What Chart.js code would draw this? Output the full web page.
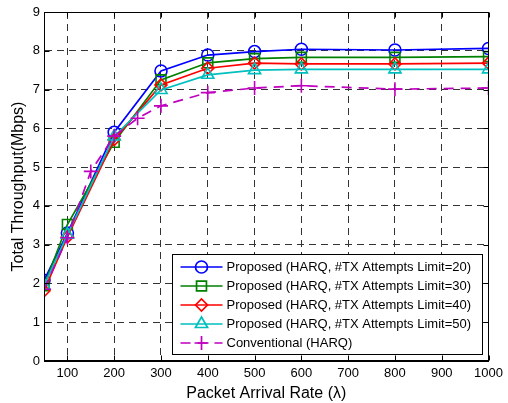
<!DOCTYPE html>
<html>
<head>
<meta charset="utf-8">
<title>Throughput</title>
<script src="https://cdn.jsdelivr.net/npm/chart.js@4"></script>
<style>
  html, body { margin: 0; padding: 0; background: #fff; }
  #wrap { width: 508px; height: 403px; }
</style>
</head>
<body>
<div id="wrap"><canvas id="c" width="508" height="403"></canvas></div>
<script>
// packet arrival rates (x) for the proposed schemes and the conventional one
var rates = [50, 100, 200, 300, 400, 500, 600, 800, 1000];
var convRates = [50, 100, 150, 200, 250, 300, 400, 500, 600, 800, 1000];

// total throughput (Mbps)
var limit20 = [2.08, 3.30, 5.90, 7.48, 7.89, 7.98, 8.04, 8.02, 8.06];
var limit30 = [1.94, 3.52, 5.64, 7.25, 7.69, 7.80, 7.83, 7.83, 7.85];
var limit40 = [1.81, 3.20, 5.71, 7.12, 7.55, 7.68, 7.66, 7.66, 7.68];
var limit50 = [1.94, 3.26, 5.79, 6.99, 7.38, 7.50, 7.52, 7.52, 7.52];
var conventional = [1.85, 3.18, 4.89, 5.80, 6.26, 6.58, 6.92, 7.04, 7.10, 7.01, 7.04];

var xTicks = [100, 200, 300, 400, 500, 600, 700, 800, 900, 1000];
var yTicks = [0, 1, 2, 3, 4, 5, 6, 7, 8, 9];

var seriesNames = [
  'Proposed (HARQ, #TX Attempts Limit=20)',
  'Proposed (HARQ, #TX Attempts Limit=30)',
  'Proposed (HARQ, #TX Attempts Limit=40)',
  'Proposed (HARQ, #TX Attempts Limit=50)',
  'Conventional (HARQ)'
];

var FONT = "'Liberation Sans', Arial, Helvetica, sans-serif";

function pts(xs, ys) {
  return xs.map(function(x, i) { return {x: x, y: ys[i]}; });
}

function makeSet(idx, xs, ys, color, style, radius, dash) {
  return {
    label: seriesNames[idx],
    data: pts(xs, ys),
    borderColor: color,
    backgroundColor: 'rgba(0,0,0,0)',
    pointBorderColor: color,
    pointBackgroundColor: 'rgba(0,0,0,0)',
    borderWidth: 1.7,
    pointBorderWidth: 1.6,
    pointStyle: style,
    pointRadius: radius,
    pointHoverRadius: radius,
    borderDash: dash || [],
    tension: 0,
    order: 4 - idx
  };
}

var datasets = [
  makeSet(0, rates, limit20, '#0000ff', 'circle', 6),
  makeSet(1, rates, limit30, '#008000', 'rect', 7),
  makeSet(2, rates, limit40, '#ff0000', 'rectRot', 6),
  makeSet(3, rates, limit50, '#00bfbf', 'triangle', 7),
  makeSet(4, convRates, conventional, '#bf00bf', 'cross', 7, [10, 7])
];

// box frame, inward ticks and the legend inside the plot (MATLAB look)
var framePlugin = {
  id: 'frame',
  afterDraw: function(chart) {
    var ctx = chart.ctx, a = chart.chartArea;
    var xs = chart.scales.x, ys = chart.scales.y;
    var L = Math.round(a.left) + 0.5, R = Math.round(a.right) - 0.5;
    var T = Math.round(a.top) + 0.5, B = Math.round(a.bottom) - 0.5;
    ctx.save();
    ctx.setLineDash([]);
    ctx.strokeStyle = '#000';
    ctx.lineWidth = 1;
    ctx.strokeRect(L, T, R - L, B - T);

    ctx.beginPath();
    xTicks.forEach(function(v) {
      var px = Math.round(xs.getPixelForValue(v)) + 0.5;
      ctx.moveTo(px, B); ctx.lineTo(px, B - 5);
      ctx.moveTo(px, T); ctx.lineTo(px, T + 5);
    });
    yTicks.forEach(function(v) {
      var py = Math.round(ys.getPixelForValue(v)) + 0.5;
      ctx.moveTo(L, py); ctx.lineTo(L + 5, py);
      ctx.moveTo(R, py); ctx.lineTo(R - 5, py);
    });
    ctx.stroke();

    // legend
    var bw = 310, bh = 100;
    var bx = Math.round(a.right - 7 - bw) + 0.5;
    var by = Math.round(a.bottom - 7 - bh) + 0.5;
    ctx.fillStyle = '#fff';
    ctx.fillRect(bx, by, bw, bh);
    ctx.strokeStyle = '#000';
    ctx.strokeRect(bx, by, bw, bh);

    ctx.font = '13px ' + FONT;
    ctx.textBaseline = 'middle';
    ctx.textAlign = 'left';
    chart.data.datasets.forEach(function(ds, i) {
      var ry = by + 12.5 + i * 19;
      var x0 = bx + 8, x1 = bx + 50;
      ctx.strokeStyle = ds.borderColor;
      ctx.lineWidth = ds.borderWidth;
      ctx.setLineDash(ds.borderDash);
      ctx.beginPath();
      ctx.moveTo(x0, ry); ctx.lineTo(x1, ry);
      ctx.stroke();
      ctx.setLineDash([]);
      ctx.fillStyle = 'rgba(0,0,0,0)';
      Chart.helpers.drawPoint(ctx, {
        pointStyle: ds.pointStyle,
        radius: ds.pointRadius,
        borderWidth: ds.pointBorderWidth,
        rotation: 0
      }, (x0 + x1) / 2, ry);
      ctx.fillStyle = '#000';
      ctx.fillText(ds.label, bx + 54, ry + 0.5);
    });
    ctx.restore();
  }
};

var ctx = document.getElementById('c').getContext('2d');
var chart = new Chart(ctx, {
  type: 'line',
  data: { datasets: datasets },
  options: {
    responsive: false,
    animation: false,
    devicePixelRatio: 1,
    layout: { padding: { top: 12, right: 19, left: 0, bottom: 0 } },
    plugins: {
      legend: { display: false },
      tooltip: { enabled: false }
    },
    scales: {
      x: {
        type: 'linear',
        min: 50,
        max: 1000,
        afterBuildTicks: function(axis) {
          axis.ticks = xTicks.map(function(v) { return {value: v}; });
        },
        afterFit: function(scale) { scale.height = 42; },
        ticks: {
          color: '#000',
          font: { family: FONT, size: 13 },
          padding: 5,
          maxRotation: 0,
          autoSkip: false,
          callback: function(v) { return String(v); }
        },
        grid: { color: '#333', drawTicks: false },
        border: { display: true, color: '#000', width: 1, dash: [7, 5] },
        title: {
          display: true,
          text: 'Packet Arrival Rate (λ)',
          color: '#000',
          font: { family: FONT, size: 16 },
          padding: { top: 0, bottom: 0 }
        }
      },
      y: {
        min: 0,
        max: 9,
        afterBuildTicks: function(axis) {
          axis.ticks = yTicks.map(function(v) { return {value: v}; });
        },
        afterFit: function(scale) { scale.width = 44; },
        ticks: {
          color: '#000',
          font: { family: FONT, size: 13 },
          padding: 4,
          callback: function(v) { return String(v); }
        },
        grid: { color: '#333', drawTicks: false },
        border: { display: true, color: '#000', width: 1, dash: [7, 5] },
        title: {
          display: true,
          text: 'Total Throughput(Mbps)',
          color: '#000',
          font: { family: FONT, size: 16 },
          padding: { top: 9, bottom: 0 }
        }
      }
    }
  },
  plugins: [framePlugin]
});
</script>
</body>
</html>
